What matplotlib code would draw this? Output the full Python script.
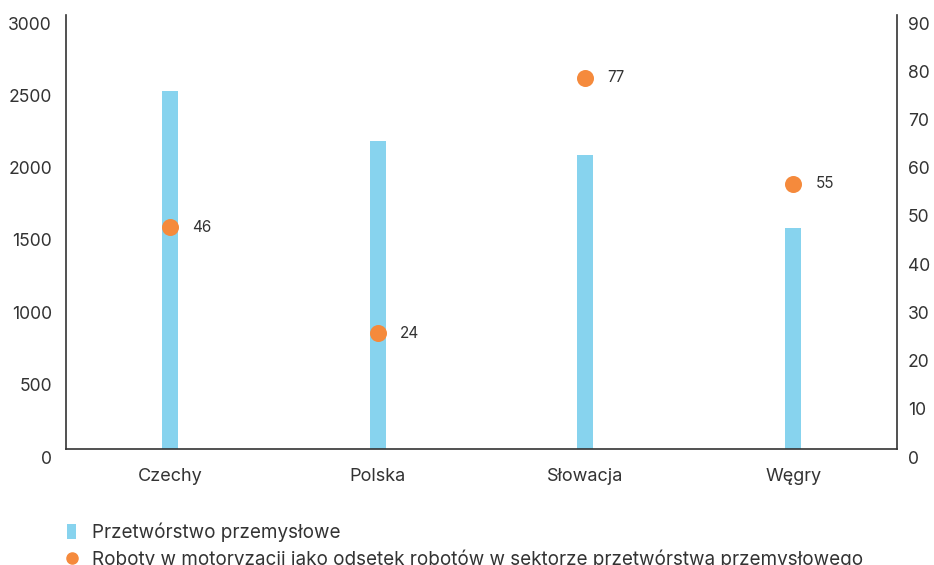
import matplotlib
matplotlib.use("Agg")
import matplotlib.pyplot as plt
import matplotlib.transforms as mtransforms
from matplotlib.lines import Line2D
from matplotlib.patches import Patch

countries = ["Czechy", "Polska", "Słowacja", "Węgry"]
manufacturing = [2475, 2130, 2030, 1530]
robots_share = [46, 24, 77, 55]

bar_color = "#87D3EE"
dot_color = "#F58A3C"
text_color = "#333333"

plt.rcParams["font.family"] = ["Inter", "DejaVu Sans"]

fig = plt.figure(figsize=(9.34, 5.65), dpi=100)
ax = fig.add_axes([66 / 934, 116 / 565, 831 / 934, 434 / 565])
ax2 = ax.twinx()

x = list(range(len(countries)))
ax.bar(x, manufacturing, width=0.077, color=bar_color, zorder=2)
ax2.scatter(x, robots_share, s=150, color=dot_color, zorder=3, linewidths=0)
for xi, v in zip(x, robots_share):
    ax2.annotate(str(v), (xi, v), xytext=(16, 0), textcoords="offset points",
                 fontsize=11, color=text_color, va="center", ha="left")

ax.set_xlim(-0.5, 3.5)
ax.set_ylim(0, 3000)
ax2.set_ylim(0, 90)
ax.set_yticks(range(0, 3001, 500))
ax2.set_yticks(range(0, 91, 10))
ax.set_xticks(x)
ax.set_xticklabels(countries)

for a in (ax, ax2):
    a.tick_params(length=0, labelsize=12.6, colors=text_color)
    for s in a.spines.values():
        s.set_color("#333333")
        s.set_linewidth(1.2)
    a.spines["top"].set_visible(False)
ax.spines["right"].set_visible(False)
ax2.spines["left"].set_visible(False)
ax2.spines["bottom"].set_visible(False)
ax.tick_params(axis="y", pad=10)
ax2.tick_params(axis="y", pad=8)
ax.tick_params(axis="x", pad=14, labelsize=13)

# y tick labels sit a bit below their values
shift = mtransforms.ScaledTranslation(0, -8 / 100, fig.dpi_scale_trans)
for lab in ax.get_yticklabels() + ax2.get_yticklabels():
    lab.set_transform(lab.get_transform() + shift)

handles = [
    Patch(facecolor=bar_color, edgecolor="none"),
    Line2D([], [], marker="o", linestyle="none", color=dot_color, markersize=8),
]
labels = [
    "Przetwórstwo przemysłowe",
    "Roboty w motoryzacji jako odsetek robotów w sektorze przetwórstwa przemysłowego",
]
fig.legend(handles, labels, loc="upper left", bbox_to_anchor=(58 / 934, 1 - 513 / 565),
           frameon=False, fontsize=13.6, handlelength=0.45, handleheight=0.9,
           handletextpad=0.85, labelspacing=0.4, borderpad=0, labelcolor=text_color)

fig.savefig("out.png", dpi=100)
